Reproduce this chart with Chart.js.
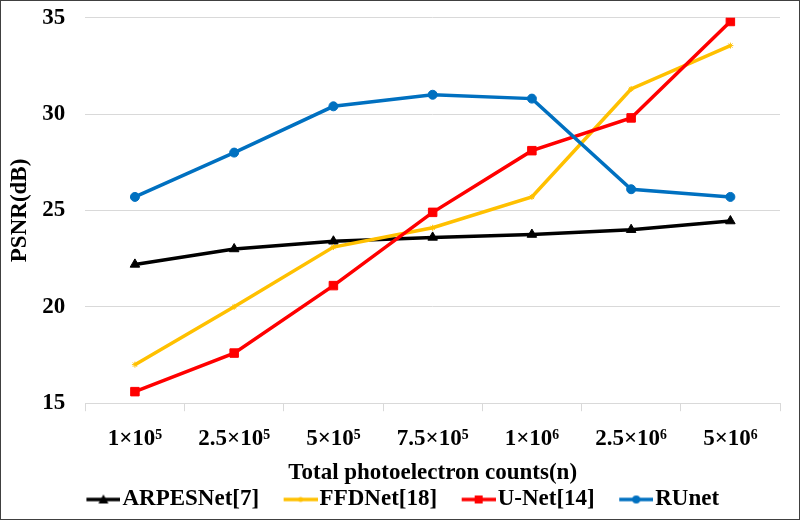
<!DOCTYPE html>
<html lang="en">
<head>
    <meta charset="UTF-8">
    <title>PSNR vs photoelectron counts</title>
    <script src="https://cdn.jsdelivr.net/npm/chart.js"></script>
    <style>
        * { margin: 0; padding: 0; box-sizing: border-box; }
        body { background: #fff; }
        .wrap {
            width: 800px;
            height: 520px;
            border: 1px solid #404040;
            position: relative;
        }
    </style>
</head>
<body>
    <div class="wrap">
        <canvas id="psnrChart"></canvas>
    </div>

    <script>
        // Data
        const countLabels = ['1×10⁵', '2.5×10⁵', '5×10⁵', '7.5×10⁵', '1×10⁶', '2.5×10⁶', '5×10⁶'];
        const arpesNet = [22.2, 23.0, 23.4, 23.6, 23.75, 24.0, 24.45];
        const ffdNet = [17.0, 20.0, 23.1, 24.1, 25.7, 31.3, 33.55];
        const uNet = [15.6, 17.6, 21.1, 24.9, 28.1, 29.8, 34.8];
        const ruNet = [25.7, 28.0, 30.4, 31.0, 30.8, 26.1, 25.7];

        const serif = "'Liberation Serif', 'Times New Roman', serif";
        const fontSize = 23;

        // legend box width; icon canvas is wider and only its right part is drawn
        const boxW = 46;
        const iconW = boxW + 19;

        // little line + marker icon for the legend
        function legendIcon(color, style) {
            const c = document.createElement('canvas');
            c.width = iconW; c.height = 14;
            const g = c.getContext('2d');
            const x0 = iconW - 34;
            const mx = x0 + 17;
            g.strokeStyle = color;
            g.fillStyle = color;
            g.lineWidth = 3.5;
            g.beginPath();
            g.moveTo(x0, 7); g.lineTo(iconW, 7);
            g.stroke();
            if (style === 'triangle') {
                g.beginPath();
                g.moveTo(mx, 2); g.lineTo(mx + 5, 11); g.lineTo(mx - 5, 11);
                g.closePath(); g.fill();
            } else if (style === 'rect') {
                g.fillRect(mx - 4, 3, 8, 8);
            } else if (style === 'circle') {
                g.beginPath(); g.arc(mx, 7, 4, 0, Math.PI * 2); g.fill();
            } else {
                g.beginPath(); g.arc(mx, 7, 2.5, 0, Math.PI * 2); g.fill();
            }
            return c;
        }

        function series(label, data, color, style, radius, order) {
            return {
                label: label,
                data: data,
                borderColor: color,
                backgroundColor: color,
                borderWidth: 3.5,
                pointStyle: style,
                pointRadius: radius,
                pointBorderWidth: 1,
                tension: 0,
                order: order,
                icon: legendIcon(color, style)
            };
        }

        const ctx = document.getElementById('psnrChart').getContext('2d');
        const psnrChart = new Chart(ctx, {
            type: 'line',
            data: {
                labels: countLabels,
                datasets: [
                    series('ARPESNet[7]', arpesNet, '#000000', 'triangle', 5.5, 4),
                    series('FFDNet[18]', ffdNet, '#FFC000', 'star', 3, 3),
                    series('U-Net[14]', uNet, '#FF0000', 'rect', 6, 2),
                    series('RUnet', ruNet, '#0070C0', 'circle', 4.5, 1)
                ]
            },
            options: {
                responsive: true,
                maintainAspectRatio: false,
                animation: false,
                layout: { padding: { top: 0, right: 19, left: 3, bottom: -2 } },
                scales: {
                    x: {
                        offset: true,
                        grid: {
                            offset: true,
                            drawOnChartArea: false,
                            drawTicks: true,
                            tickLength: 8,
                            color: '#d9d9d9'
                        },
                        border: { display: true, color: '#d9d9d9', width: 1 },
                        ticks: {
                            color: '#000',
                            padding: 15.5,
                            font: { family: serif, size: fontSize, weight: 'bold', lineHeight: 1.1 }
                        },
                        title: {
                            display: true,
                            text: 'Total photoelectron counts(n)',
                            color: '#000',
                            padding: { top: 0, bottom: 6 },
                            font: { family: serif, size: fontSize, weight: 'bold', lineHeight: 0.5 }
                        }
                    },
                    y: {
                        min: 15,
                        max: 35,
                        ticks: {
                            stepSize: 5,
                            color: '#000',
                            padding: 4,
                            font: { family: serif, size: fontSize, weight: 'bold', lineHeight: 1.1 }
                        },
                        // invisible tick marks keep the labels away from the plot
                        grid: { color: '#d9d9d9', drawTicks: true, tickLength: 16, tickColor: 'rgba(0,0,0,0)' },
                        border: { display: false },
                        title: {
                            display: true,
                            text: 'PSNR(dB)',
                            color: '#000',
                            padding: { top: 3, bottom: 6 },
                            font: { family: serif, size: fontSize, weight: 'bold', lineHeight: 1.1 }
                        }
                    }
                },
                plugins: {
                    legend: {
                        position: 'bottom',
                        labels: {
                            usePointStyle: true,
                            pointStyleWidth: boxW,
                            padding: 3,
                            color: '#000',
                            font: { family: serif, size: fontSize, weight: 'bold', lineHeight: 1.1 },
                            generateLabels: chart => chart.data.datasets.map((ds, i) => ({
                                text: ds.label,
                                pointStyle: ds.icon,
                                fillStyle: ds.borderColor,
                                strokeStyle: ds.borderColor,
                                lineWidth: 0,
                                hidden: !chart.isDatasetVisible(i),
                                datasetIndex: i,
                                fontColor: '#000'
                            }))
                        }
                    },
                    tooltip: { enabled: false }
                }
            }
        });
    </script>
</body>
</html>
